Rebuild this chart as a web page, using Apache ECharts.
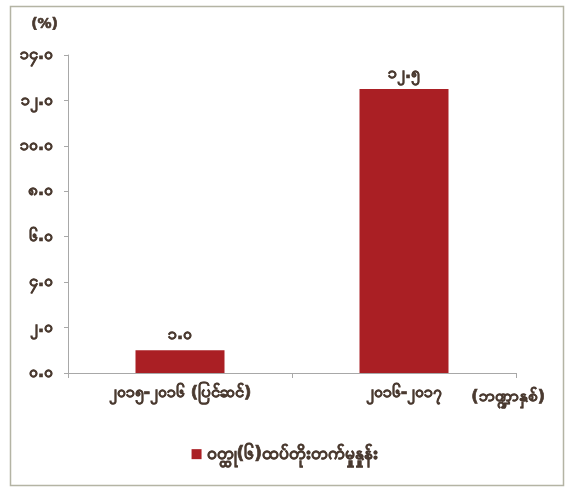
<!DOCTYPE html>
<html>
<head>
<meta charset="utf-8">
<script src="https://cdn.jsdelivr.net/npm/echarts@6/dist/echarts.min.js"></script>
<style>
  html, body { margin: 0; padding: 0; background: #fff; }
  #chart { width: 570px; height: 488px; }
</style>
</head>
<body>
<div id="chart"></div>
<script>
// data
var categories = ['၂၀၁၅-၂၀၁၆ (ပြင်ဆင်)', '၂၀၁၆-၂၀၁၇'];
var seriesName = 'ဝတ္ထု(၆)ထပ်တိုးတက်မှုနှုန်း';
var growth = [1.0, 12.5];
var yMin = 0, yMax = 14, yStep = 2;

var mmDigits = ['၀', '၁', '၂', '၃', '၄', '၅', '၆', '၇', '၈', '၉'];
function toMyanmar(v) {
  return v.toFixed(1).replace(/[0-9]/g, function (d) { return mmDigits[+d]; });
}

var textColor = '#4a3a30';
var font = 'DejaVu Sans';
// thicken the strokes a bit, the source font is heavy
function heavy(size) {
  return {
    color: textColor, fontSize: size, fontWeight: 'bold',
    textBorderColor: textColor, textBorderWidth: 0.7
  };
}

var chart = echarts.init(document.getElementById('chart'));
chart.setOption({
  animation: false,
  backgroundColor: '#fff',
  textStyle: { fontFamily: font },
  grid: { left: 68, right: 54, top: 55, bottom: 115 },
  graphic: [
    {
      type: 'rect',
      shape: { x: 10.5, y: 6.5, width: 553, height: 479 },
      style: { fill: 'none', stroke: '#b4b4a4', lineWidth: 1.5 }
    },
    {
      type: 'text',
      left: 471, top: 388,
      style: {
        text: '(ဘဏ္ဍာနှစ်)', fill: textColor, font: 'bold 16px ' + font,
        stroke: textColor, lineWidth: 0.7
      }
    }
  ],
  legend: {
    bottom: 20,
    left: 'center',
    itemWidth: 10,
    itemHeight: 10,
    itemGap: 6,
    icon: 'rect',
    textStyle: heavy(17),
    data: [seriesName]
  },
  xAxis: {
    type: 'category',
    data: categories,
    axisLine: { lineStyle: { color: '#a8a8a8' } },
    axisTick: { show: true, length: 5, lineStyle: { color: '#a8a8a8' } },
    axisLabel: Object.assign(heavy(16), { margin: 12 })
  },
  yAxis: {
    type: 'value',
    min: yMin,
    max: yMax,
    interval: yStep,
    name: '(%)',
    nameLocation: 'end',
    nameGap: 24,
    nameTextStyle: Object.assign(heavy(14), { align: 'right', padding: [0, 10, 0, 0] }),
    splitLine: { show: false },
    axisLine: { show: true, lineStyle: { color: '#a8a8a8' } },
    axisTick: { show: true, length: 4, lineStyle: { color: '#a8a8a8' } },
    axisLabel: Object.assign(heavy(16), {
      margin: 15,
      formatter: function (v) { return toMyanmar(v); }
    })
  },
  series: [{
    name: seriesName,
    type: 'bar',
    data: growth,
    barWidth: 89,
    itemStyle: { color: '#aa1f24' },
    label: Object.assign(heavy(16), {
      show: true,
      position: 'top',
      distance: 7,
      formatter: function (p) { return toMyanmar(p.value); }
    })
  }]
});
</script>
</body>
</html>
